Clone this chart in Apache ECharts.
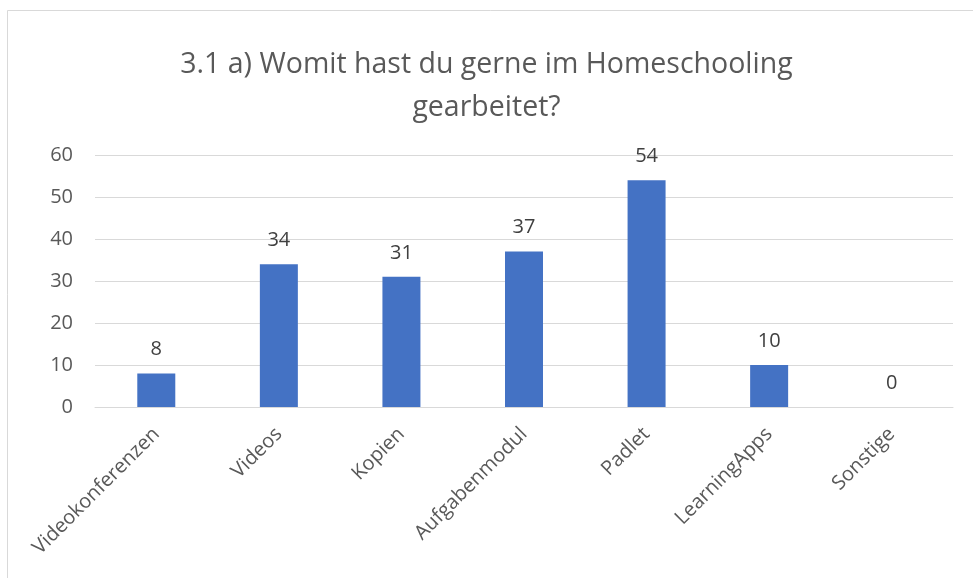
<!DOCTYPE html>
<html>
<head>
<meta charset="utf-8">
<script src="https://cdn.jsdelivr.net/npm/echarts@6/dist/echarts.min.js"></script>
<style>
  html, body { margin: 0; padding: 0; background: #fff; }
  #chart { width: 973px; height: 578px; }
</style>
</head>
<body>
<div id="chart"></div>
<script>
const categories = ['Videokonferenzen', 'Videos', 'Kopien', 'Aufgabenmodul', 'Padlet', 'LearningApps', 'Sonstige'];
const counts = [8, 34, 31, 37, 54, 10, 0];
const yTicks = [0, 10, 20, 30, 40, 50, 60];

const FONT = 'Open Sans';

const chart = echarts.init(document.getElementById('chart'));
chart.setOption({
    backgroundColor: '#fff',
    animation: false,
    graphic: [{
        type: 'rect',
        shape: { x: 7.5, y: 10.5, width: 1000, height: 700 },
        style: { fill: 'none', stroke: '#d9d9d9', lineWidth: 1 },
    }],
    title: {
        text: '3.1 a) Womit hast du gerne im Homeschooling\ngearbeitet?',
        left: 'center',
        top: 38,
        textStyle: {
            fontFamily: FONT,
            fontSize: 28.5,
            fontWeight: 'normal',
            color: '#595959',
            lineHeight: 43,
        },
    },
    grid: { left: 95, right: 20, top: 155, bottom: 171, containLabel: false },
    xAxis: {
        type: 'category',
        data: categories,
        axisLine: { lineStyle: { color: '#d9d9d9', width: 1 } },
        axisTick: { show: false },
        axisLabel: {
            rotate: 45,
            interval: 0,
            margin: 24,
            fontFamily: FONT,
            fontSize: 20,
            color: '#595959',
        },
    },
    yAxis: {
        type: 'value',
        min: yTicks[0],
        max: yTicks[yTicks.length - 1],
        interval: 10,
        axisLine: { show: false },
        axisTick: { show: false },
        splitLine: { lineStyle: { color: '#d9d9d9', width: 1 } },
        axisLabel: {
            margin: 22,
            fontFamily: FONT,
            fontSize: 20,
            color: '#595959',
        },
    },
    series: [{
        type: 'bar',
        data: counts,
        barWidth: 38,
        itemStyle: { color: '#4472c4' },
        label: {
            show: true,
            position: 'top',
            distance: 14,
            fontFamily: FONT,
            fontSize: 20,
            color: '#404040',
        },
    }],
});
</script>
</body>
</html>
